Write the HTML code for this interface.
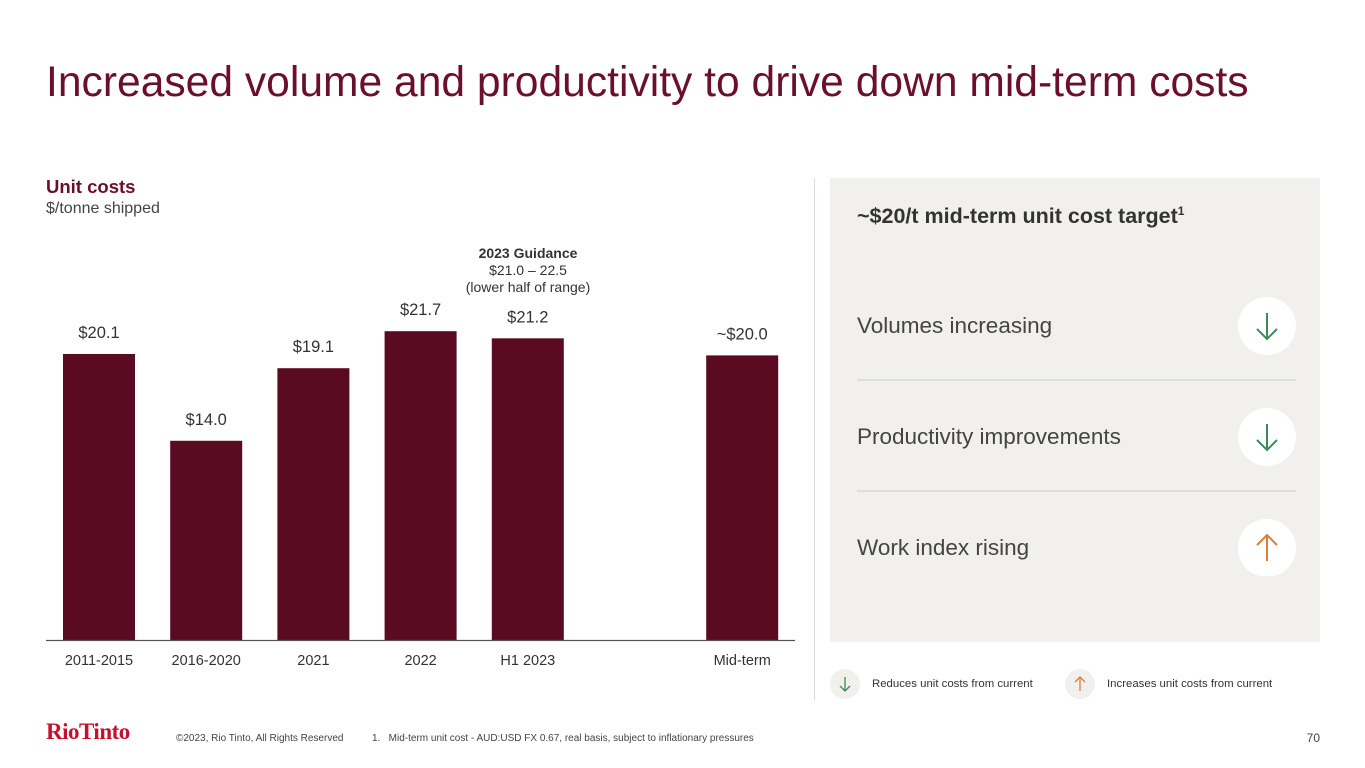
<!DOCTYPE html>
<html><head><meta charset="utf-8"><style>
body{margin:0;width:1365px;height:768px;background:#fff;font-family:"Liberation Sans",Arial,sans-serif;position:relative;overflow:hidden}
.a{position:absolute}
</style></head><body>
<div class="a" style="left:46px;top:58px;font-size:42.6px;color:#6b0f2e;white-space:nowrap">Increased volume and productivity to drive down mid-term costs</div>
<div class="a" style="left:46px;top:176px;font-size:18.5px;font-weight:bold;color:#6b0f2e">Unit costs</div>
<div class="a" style="left:46px;top:200px;font-size:16px;color:#444">$/tonne shipped</div>
<div class="a" style="left:408px;top:245px;width:240px;text-align:center;font-size:14px;color:#333;line-height:17px"><b>2023 Guidance</b><br>$21.0 – 22.5<br>(lower half of range)</div>
<svg class="a" id="chart" style="left:0;top:0" width="800" height="700"></svg>
<div class="a" style="left:814px;top:178px;width:1px;height:522px;background:#ddd"></div>
<div class="a" style="left:830px;top:178px;width:490px;height:464px;background:#f1f0ed">
 <div class="a" style="left:27px;top:26px;font-size:21.5px;font-weight:bold;color:#333;white-space:nowrap">~$20/t mid-term unit cost target<sup style="font-size:12px">1</sup></div>
 <div class="a" style="left:27px;top:135px;font-size:22.5px;color:#444">Volumes increasing</div>
 <div class="a" style="left:27px;top:201px;width:439px;height:2px;background:#ddd"></div>
 <div class="a" style="left:27px;top:246px;font-size:22.5px;color:#444">Productivity improvements</div>
 <div class="a" style="left:27px;top:312px;width:439px;height:2px;background:#ddd"></div>
 <div class="a" style="left:27px;top:357px;font-size:22.5px;color:#444">Work index rising</div>
 <svg class="a" style="left:407px;top:118px" width="60" height="280">
  <g><circle cx="30" cy="30" r="29" fill="#fff"/><path d="M30 17V43M20 33L30 43L40 33" stroke="#3d8b5a" stroke-width="2" fill="none"/></g>
  <g><circle cx="30" cy="141" r="29" fill="#fff"/><path d="M30 128V154M20 144L30 154L40 144" stroke="#3d8b5a" stroke-width="2" fill="none"/></g>
  <g><circle cx="30" cy="252" r="29" fill="#fff"/><path d="M30 265V239M20 249L30 239L40 249" stroke="#e07b3a" stroke-width="2" fill="none"/></g>
 </svg>
</div>
<svg class="a" style="left:830px;top:669px" width="300" height="32">
 <g><circle cx="15" cy="15" r="15" fill="#f1f0ed"/><path d="M15 8V22M10 17L15 22L20 17" stroke="#3d8b5a" stroke-width="1.3" fill="none"/></g>
 <g><circle cx="250" cy="15" r="15" fill="#f1f0ed"/><path d="M250 22V8M245 13L250 8L255 13" stroke="#e07b3a" stroke-width="1.3" fill="none"/></g>
</svg>
<div class="a" style="left:872px;top:678px;font-size:11.4px;color:#333">Reduces unit costs from current</div>
<div class="a" style="left:1107px;top:678px;font-size:11.4px;color:#333">Increases unit costs from current</div>
<div class="a" style="left:46px;top:719px;font-family:'Liberation Serif',serif;font-size:23px;font-weight:bold;color:#c8102e;letter-spacing:-0.5px">RioTinto</div>
<div class="a" style="left:176px;top:733px;font-size:10px;color:#444">©2023, Rio Tinto, All Rights Reserved</div>
<div class="a" style="left:372px;top:733px;font-size:10px;color:#444">1.&nbsp;&nbsp; Mid-term unit cost - AUD:USD FX 0.67, real basis, subject to inflationary pressures</div>
<div class="a" style="left:1300px;top:731px;width:20px;text-align:right;font-size:12px;color:#444">70</div>
<script>
const categories=["2011-2015","2016-2020","2021","2022","H1 2023","","Mid-term"];
const values=[20.1,14.0,19.1,21.7,21.2,null,20.0];
const valueLabels=["$20.1","$14.0","$19.1","$21.7","$21.2","","~$20.0"];
const svg=document.getElementById('chart');
const NS='http://www.w3.org/2000/svg';
const base=640,scale=14.23,x0=99,step=107.2,bw=72;
const x=i=>x0+i*step, y=v=>base-v*scale;
function el(t,a){const e=document.createElementNS(NS,t);for(const k in a)e.setAttribute(k,a[k]);svg.appendChild(e);return e;}
categories.forEach((c,i)=>{
 if(values[i]!=null){
  const r=el('rect',{x:x(i)-bw/2,y:y(values[i]),width:bw,height:base-y(values[i]),fill:'#5a0a21'});
  
  
  const t=el('text',{x:x(i),y:y(values[i])-16,'text-anchor':'middle','font-size':'16.5',fill:'#333'});
  
  
  t.textContent=valueLabels[i];
 }
 if(c){
  const t=el('text',{x:x(i),y:665,'text-anchor':'middle','font-size':'14.5',fill:'#333'});
  
  
  t.textContent=c;
 }
});
const ax=el('line',{x1:46,x2:795,y1:base+0.5,y2:base+0.5,stroke:'#555','stroke-width':1.2});


</script>
</body></html>
